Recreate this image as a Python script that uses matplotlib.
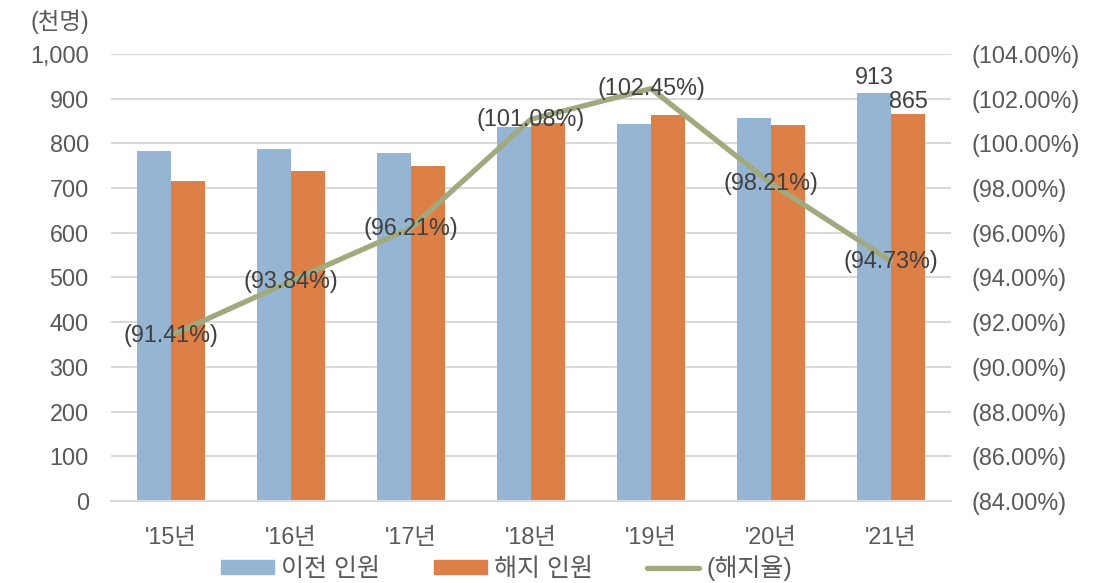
import matplotlib
matplotlib.use("Agg")
import matplotlib.pyplot as plt
from matplotlib.lines import Line2D
from matplotlib.patches import Patch
import numpy as np

plt.rcParams['font.family'] = ['Liberation Sans', 'Noto Sans CJK KR', 'DejaVu Sans']

years = ["'15년", "'16년", "'17년", "'18년", "'19년", "'20년", "'21년"]
transferred = [783, 787, 778, 836, 843, 857, 913]      # 이전 인원 (천명)
terminated = [716, 739, 749, 845, 863, 842, 865]       # 해지 인원 (천명)
rate = [91.41, 93.84, 96.21, 101.08, 102.45, 98.21, 94.73]  # 해지율 (%)
left_ticks = list(range(0, 1001, 100))
right_ticks = list(range(84, 105, 2))

BLUE = '#95B5D3'
ORANGE = '#DD8047'
OLIVE = '#A1AA7E'
TEXT = '#595959'
LABEL = '#404040'
GRID = '#D9D9D9'
FS = 16.8

fig = plt.figure(figsize=(11.12, 5.83), dpi=100)
ax = fig.add_axes([0.0998, 0.1407, 0.7554, 0.7667])

x = np.arange(len(years))
w = 0.286
ax.bar(x - w / 2, transferred, w, color=BLUE, zorder=2)
ax.bar(x + w / 2, terminated, w, color=ORANGE, zorder=2)

ax.set_xlim(-0.5, len(years) - 0.5)
ax.set_ylim(0, 1000)
ax.set_yticks(left_ticks)
ax.set_yticklabels([f"{v:,}" for v in left_ticks])
ax.set_xticks(x)
ax.set_xticklabels(years)
ax.tick_params(axis='y', length=0, pad=16, labelsize=FS, labelcolor=TEXT)
ax.tick_params(axis='x', length=0, pad=18, labelsize=FS, labelcolor=TEXT)
ax.grid(axis='y', color=GRID, linewidth=1.5, zorder=0)
ax.set_axisbelow(True)
for s in ['top', 'right', 'left']:
    ax.spines[s].set_visible(False)
ax.spines['bottom'].set_color(GRID)
ax.spines['bottom'].set_linewidth(1.5)

# value labels on the latest year
last = len(years) - 1
ax.annotate(f"{transferred[last]}", (x[last] - w / 2, transferred[last]),
            xytext=(0, 3), textcoords='offset points', ha='center', va='bottom',
            fontsize=FS, color=LABEL)
ax.annotate(f"{terminated[last]}", (x[last] + w / 2, terminated[last]),
            xytext=(0, 1), textcoords='offset points', ha='center', va='bottom',
            fontsize=FS, color=LABEL)

ax2 = ax.twinx()
ax2.set_ylim(84, 104)
ax2.set_yticks(right_ticks)
ax2.set_yticklabels([f"({v:.2f}%)" for v in right_ticks])
ax2.tick_params(axis='y', length=0, pad=15, labelsize=FS, labelcolor=TEXT)
for s in ax2.spines.values():
    s.set_visible(False)
ax2.plot(x, rate, color=OLIVE, linewidth=3.8, zorder=3, solid_capstyle='round')
for xi, r in zip(x, rate):
    ax2.text(xi, r, f"({r:.2f}%)", ha='center', va='center',
             fontsize=FS, color=LABEL, zorder=4)

fig.text(89 / 1112, 1 - 22 / 583, "(천명)", ha='right', va='center',
         fontsize=FS, color=TEXT)

handles = [Patch(color=BLUE), Patch(color=ORANGE),
           Line2D([0], [0], color=OLIVE, linewidth=3.8, solid_capstyle='round')]
labels = ['이전 인원', '해지 인원', '(해지율)']
fig.legend(handles, labels, loc='center', bbox_to_anchor=(507 / 1112, 1 - 568 / 583),
           ncol=3, frameon=False, fontsize=18, labelcolor=TEXT,
           handlelength=2.1, handleheight=0.5, handletextpad=0.3,
           columnspacing=2.15, borderpad=0)

fig.savefig('out.png', dpi=100)
